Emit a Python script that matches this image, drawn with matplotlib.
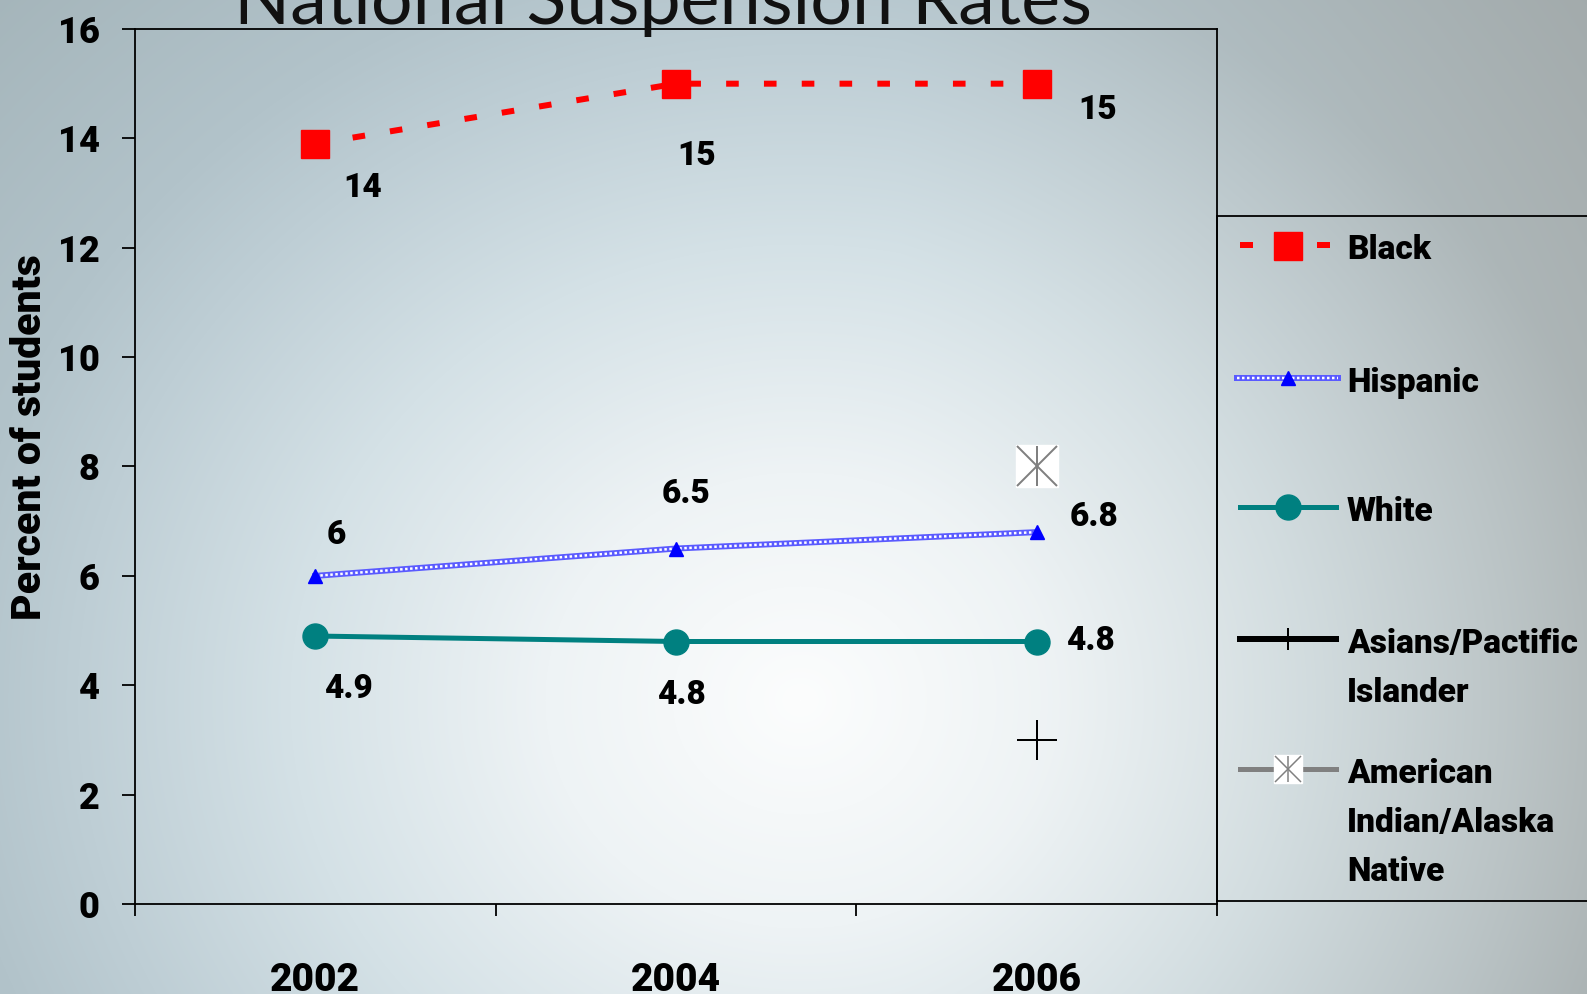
import numpy as np
import matplotlib
matplotlib.use("Agg")
import matplotlib.pyplot as plt

# suspension rates (% of students) by year
years = ["2002", "2004", "2006"]
black = [13.9, 15.0, 15.0]
hispanic = [6.0, 6.5, 6.8]
white = [4.9, 4.8, 4.8]
asian = [np.nan, np.nan, 3.0]
native = [np.nan, np.nan, 8.0]
y_ticks = [0, 2, 4, 6, 8, 10, 12, 14, 16]
legend_labels = ["Black", "Hispanic", "White",
                 "Asians/Pactific\nIslander",
                 "American\nIndian/Alaska\nNative"]

W, H = 1587, 994
DPI = 100
PX = 72.0 / DPI  # points per pixel

lab_font = dict(family="Roboto", weight="heavy", size=24)
tick_font = dict(family="Roboto", weight="heavy")

fig = plt.figure(figsize=(W / DPI, H / DPI), dpi=DPI)

# radial background shading
yy, xx = np.mgrid[0:H, 0:W]
d = np.sqrt(((xx - 800) / 850.0) ** 2 + ((yy - 700) / 760.0) ** 2)
stops_t = [0.0, 0.3, 0.6, 0.85, 1.0, 1.4]
blue = np.array([[252, 253, 253], [238, 243, 245], [212, 225, 230],
                 [190, 206, 213], [178, 195, 202], [162, 178, 183]], float)
grey = np.array([[252, 253, 253], [236, 240, 240], [208, 216, 217],
                 [186, 194, 195], [172, 180, 181], [160, 168, 169]], float)
w = np.clip((xx - 900) / 687.0, 0, 1)[..., None]
cb = np.stack([np.interp(d, stops_t, blue[:, k]) for k in range(3)], -1)
cg = np.stack([np.interp(d, stops_t, grey[:, k]) for k in range(3)], -1)
img = (cb * (1 - w) + cg * w) / 255.0
bg = fig.add_axes([0, 0, 1, 1], zorder=-10)
bg.imshow(img, aspect="auto", extent=(0, W, H, 0))
bg.axis("off")

fig.text(663 / W, 1 - 24 / H, "National Suspension Rates", family="Lato",
         size=53, ha="center", va="baseline", color="#111111")

ax = fig.add_axes([135 / W, (H - 904) / H, (1217 - 135) / W, (904 - 29) / H])
ax.set_facecolor("none")
x = np.arange(len(years))

# series styles
st_black = dict(color="#ff0000", lw=6 * PX, dashes=(2.1, 4.2), marker="s",
                ms=28 * PX, dash_capstyle="butt")
st_white = dict(color="#008080", lw=5 * PX, marker="o", ms=25 * PX)

ax.plot(x, black, **st_black, zorder=3)
ax.plot(x, hispanic, color="#5a5aff", lw=6 * PX, zorder=3)
ax.plot(x, hispanic, color="white", lw=2.5 * PX, dashes=(1, 1), zorder=3)
ax.plot(x, hispanic, ls="none", marker="^", color="#0000ff", ms=14 * PX, zorder=4)
ax.plot(x, white, **st_white, zorder=3)
ax.plot(x, asian, ls="none", marker="+", color="black", ms=40 * PX, mew=2 * PX, zorder=3)
ax.plot(x, native, ls="none", marker="s", color="white", ms=43 * PX, zorder=3)
ax.plot(x, native, ls="none", marker="x", color="#808080", ms=40 * PX, mew=2 * PX, zorder=4)
ax.plot(x, native, ls="none", marker="|", color="#808080", ms=40 * PX, mew=2 * PX, zorder=4)

# value labels
offsets = {
    "black": [(47, -44), (21, -72), (61, -26)],
    "hispanic": [(21, 41), (10, 55), (57, 15)],
    "white": [(33, -53), (5, -54), (54, 0)],
}
for name, vals, fmt in [("black", black, "{:.0f}"), ("hispanic", hispanic, "{:g}"),
                        ("white", white, "{:g}")]:
    for i, v in enumerate(vals):
        ax.annotate(fmt.format(v), (x[i], v), xytext=offsets[name][i],
                    textcoords="offset pixels", ha="center", va="center", **lab_font)

ax.set_xlim(-0.5, 2.5)
ax.set_ylim(0, 16)
ax.set_yticks(y_ticks)
ax.set_yticklabels([str(t) for t in y_ticks], fontsize=26, **tick_font)
ax.set_xticks(x)
ax.set_xticklabels(years, fontsize=28, **tick_font)
ax.set_xticks(np.arange(-0.5, 3, 1), minor=True)
ax.tick_params(axis="x", which="major", length=0, pad=42)
ax.tick_params(axis="x", which="minor", length=12 * PX, width=1.3, direction="out")
ax.tick_params(axis="y", length=13 * PX, width=1.3, direction="out", pad=16)
for s in ax.spines.values():
    s.set_linewidth(1.3)

fig.text(30 / W, 1 - 437 / H, "Percent of students", rotation=90,
         ha="center", va="center", family="Roboto", weight="heavy", size=29.5)

# legend panel
lax = fig.add_axes([1217 / W, (H - 901) / H, 400 / W, (901 - 216) / H])
lax.set_facecolor("none")
lax.set_xlim(1217, 1617)
lax.set_ylim(901, 216)
lax.set_xticks([])
lax.set_yticks([])
lax.spines["right"].set_visible(False)
for s in ["left", "top", "bottom"]:
    lax.spines[s].set_linewidth(1.3)

baselines = [259, 392, 521, 653, 783]
hx = [1240, 1288, 1336]
for lbl, b in zip(legend_labels, baselines):
    for j, line in enumerate(lbl.split("\n")):
        lax.text(1347, b + j * 49, line, va="baseline", ha="left", **lab_font)

hy = [b - 14 for b in baselines]
lax.plot([1240, 1288, 1330], [hy[0]] * 3, color="#ff0000", lw=6 * PX,
         dashes=(13 / 6, 64 / 6), dash_capstyle="butt")
lax.plot([1288], [hy[0] + 1], ls="none", marker="s", color="#ff0000", ms=28 * PX)
lax.plot([1237, 1338], [hy[1]] * 2, color="#5a5aff", lw=6 * PX)
lax.plot([1237, 1338], [hy[1]] * 2, color="white", lw=2.5 * PX, dashes=(1, 1))
lax.plot([1288], [hy[1]], ls="none", marker="^", color="#0000ff", ms=14 * PX)
lax.plot(hx, [hy[2]] * 3, markevery=[1], **st_white)
lax.plot(hx, [hy[3]] * 3, color="black", lw=6 * PX, marker="|", ms=23 * PX,
         mew=2 * PX, markevery=[1])
lax.plot(hx, [hy[4]] * 3, color="#808080", lw=5 * PX)
lax.plot([1288], [hy[4]], ls="none", marker="s", color="white", ms=28 * PX)
lax.plot([1288], [hy[4]], ls="none", marker="x", color="#808080", ms=26 * PX, mew=1.5 * PX)
lax.plot([1288], [hy[4]], ls="none", marker="|", color="#808080", ms=26 * PX, mew=1.5 * PX)

fig.savefig("out.png", dpi=DPI)
